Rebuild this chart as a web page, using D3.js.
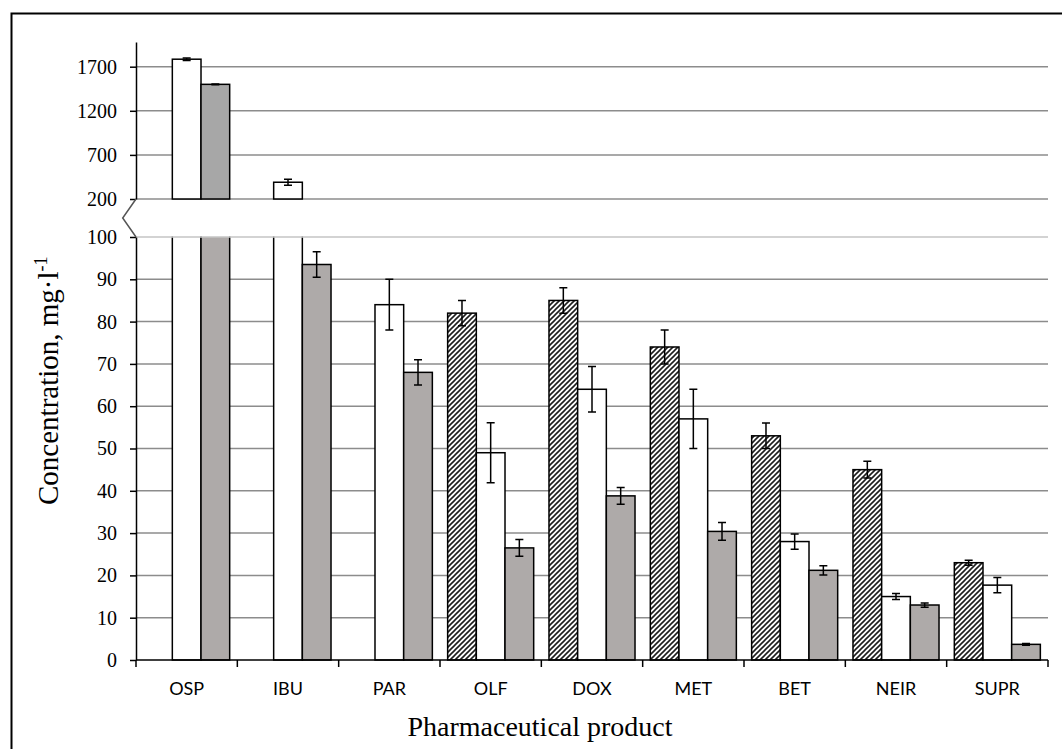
<!DOCTYPE html>
<html><head><meta charset="utf-8">
<script src="https://cdn.jsdelivr.net/npm/d3@7"></script>
<style>body{margin:0;background:#fff} svg{display:block}</style>
</head><body>
<svg id="c" width="1062" height="749"></svg>
<script>
// ---- data ----
const categories = ["OSP","IBU","PAR","OLF","DOX","MET","BET","NEIR","SUPR"];
const seriesNames = ["hatched","white","gray"];
const hatchedValues = [null,null,null,82,85,74,53,45,23];
const hatchedErrors = [null,null,null,3,3,4,3,2,0.6];
const whiteValues   = [1785,390,84,49,64,57,28,15,17.7];
const whiteErrors   = [15,34,6,7.1,5.4,7,1.8,0.7,1.8];
const grayValues    = [1500,93.5,68,26.5,38.8,30.4,21.2,13,3.7];
const grayErrors    = [5,3,3,2,2,2.1,1.1,0.5,0.2];
const lowerTicks = [0,10,20,30,40,50,60,70,80,90,100];
const upperTicks = [200,700,1200,1700];
const xTitle = "Pharmaceutical product";
const yTitle = "Concentration, mg·l";
const yTitleSup = "-1";

// ---- setup ----
const svg = d3.select("#c");
const x0 = d3.scaleBand().domain(categories).range([136,1048]).paddingInner(0.151).paddingOuter(0.0755);
const x1 = d3.scaleBand().domain(seriesNames).range([0,x0.bandwidth()]);
const yLow = d3.scaleLinear().domain([0,100]).range([660,237]);
const yUp = d3.scaleLinear().domain([200,1980]).range([199,42]);
const serif = "'Liberation Serif','Times New Roman',serif";

const defs = svg.append("defs");
const pat = defs.append("pattern").attr("id","hatch").attr("patternUnits","userSpaceOnUse")
  .attr("width",5).attr("height",5);
pat.append("rect").attr("width",5).attr("height",5).attr("fill","#fff");
pat.append("path").attr("d","M-1,1 l2,-2 M0,5 l5,-5 M4,6 l2,-2")
  .attr("stroke","#1e1e1e").attr("stroke-width",1.6);

const fills = {hatched:"url(#hatch)", white:"#ffffff", gray:"#aeaaa9"};

// outer frame
svg.append("rect").attr("x",11.5).attr("y",13.5).attr("width",1100).attr("height",800)
  .attr("fill","none").attr("stroke","#000").attr("stroke-width",2);

// gridlines
const g = svg.append("g");
g.selectAll("line.gl").data(lowerTicks.filter(t=>t>0 && t<100)).join("line")
  .attr("x1",136).attr("x2",1048).attr("y1",d=>yLow(d)).attr("y2",d=>yLow(d))
  .attr("stroke","#8c8c8c").attr("stroke-width",1.5);
g.selectAll("line.gu").data(upperTicks).join("line")
  .attr("x1",136).attr("x2",1048).attr("y1",d=>yUp(d)).attr("y2",d=>yUp(d))
  .attr("stroke","#8c8c8c").attr("stroke-width",1.5);

// build records
const recs = [];
const allVals = {hatched:[hatchedValues,hatchedErrors], white:[whiteValues,whiteErrors], gray:[grayValues,grayErrors]};
categories.forEach((c,i)=>{
  seriesNames.forEach(s=>{
    const v = allVals[s][0][i];
    if (v==null) return;
    recs.push({c, s, v, e: allVals[s][1][i], x: x0(c)+x1(s), w: x1.bandwidth()});
  });
});

const bars = svg.append("g");
recs.forEach(r=>{
  if (r.v <= 100) {
    bars.append("rect").attr("x",r.x).attr("y",yLow(r.v)).attr("width",r.w)
      .attr("height",yLow(0)-yLow(r.v)).attr("fill",fills[r.s])
      .attr("stroke","#000").attr("stroke-width",1.5);
  } else {
    bars.append("rect").attr("x",r.x).attr("y",yLow(100)).attr("width",r.w)
      .attr("height",yLow(0)-yLow(100)).attr("fill",fills[r.s]);
    bars.append("path").attr("d",`M${r.x},${yLow(100)-3}V${yLow(0)}H${r.x+r.w}V${yLow(100)-3}`)
      .attr("fill","none").attr("stroke","#000").attr("stroke-width",1.5);
    bars.append("rect").attr("x",r.x).attr("y",yUp(r.v)).attr("width",r.w)
      .attr("height",yUp(200)-yUp(r.v)).attr("fill",r.s==="gray"?"#a7a7a7":fills[r.s])
      .attr("stroke","#000").attr("stroke-width",1.5);
  }
});

// break band
svg.append("rect").attr("x",123).attr("y",yUp(200)+1).attr("width",1048-123)
  .attr("height",yLow(100)-yUp(200)-1.5).attr("fill","#fff");
svg.append("line").attr("x1",136).attr("x2",1048).attr("y1",yLow(100)).attr("y2",yLow(100))
  .attr("stroke","#c4c4c4").attr("stroke-width",1.3);

// axes
const fmt = d3.format("d");
const axLow = svg.append("g").attr("transform","translate(136,0)")
  .call(d3.axisLeft(yLow).tickValues(lowerTicks).tickFormat(fmt).tickSize(6).tickSizeOuter(0).tickPadding(13));
const axUp = svg.append("g").attr("transform","translate(136,0)")
  .call(d3.axisLeft(yUp).tickValues(upperTicks).tickFormat(fmt).tickSize(6).tickSizeOuter(0).tickPadding(13));
[axLow,axUp].forEach(a=>{
  a.attr("font-family",null).attr("font-size",null);
  a.select(".domain").attr("stroke","#000").attr("stroke-width",1.5);
  a.selectAll(".tick line").attr("stroke","#000").attr("stroke-width",1.5);
  a.selectAll(".tick text").style("font-family",serif).style("font-size","20px").attr("fill","#000");
});

// zigzag break mark
const yb1 = yUp(200), yb2 = yLow(100);
svg.append("path").attr("d",`M136,${yb1}L122.7,${(yb1+yb2)/2}L136,${yb2}`)
  .attr("fill","none").attr("stroke","#555").attr("stroke-width",1.5);

// x axis
const xa = svg.append("g");
xa.append("line").attr("x1",136).attr("x2",1048).attr("y1",yLow(0)).attr("y2",yLow(0))
  .attr("stroke","#000").attr("stroke-width",1.5);
const bounds = d3.range(categories.length+1).map(i=>x0.range()[0]+i*x0.step());
xa.selectAll("line.t").data(bounds).join("line").attr("class","t")
  .attr("x1",d=>d).attr("x2",d=>d).attr("y1",yLow(0)).attr("y2",yLow(0)+7)
  .attr("stroke","#000").attr("stroke-width",1.5);
xa.selectAll("text").data(categories).join("text")
  .attr("x",d=>x0(d)+x0.bandwidth()/2).attr("y",695).attr("text-anchor","middle")
  .style("font-family","Lato, 'Open Sans', sans-serif").style("font-size","18px").attr("fill","#000")
  .text(d=>d);

// error bars
const eb = svg.append("g").attr("stroke","#000").attr("stroke-width",1.5).attr("fill","none");
recs.forEach(r=>{
  const sc = r.v > 100 ? yUp : yLow;
  const cx = r.x + r.w/2;
  const yt = sc(r.v + r.e), yb = sc(r.v - r.e);
  eb.append("path").attr("d",`M${cx},${yt}V${yb}M${cx-4},${yt}H${cx+4}M${cx-4},${yb}H${cx+4}`);
});

// titles
svg.append("text").attr("x",540).attr("y",736).attr("text-anchor","middle")
  .style("font-family",serif).style("font-size","28px").attr("fill","#000").text(xTitle);
const yt = svg.append("text").attr("transform","translate(58,505) rotate(-90)")
  .attr("text-anchor","start").style("font-family",serif).style("font-size","29px").attr("fill","#000");
yt.append("tspan").text(yTitle);
yt.append("tspan").attr("dy",-11).style("font-size","18px").text(yTitleSup);
</script>
</body></html>
